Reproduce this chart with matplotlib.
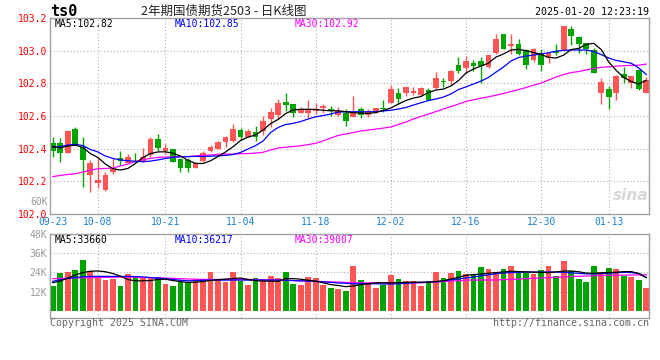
import numpy as np
import matplotlib
matplotlib.use("Agg")
import matplotlib.pyplot as plt

# daily bars 2024-09-23 .. 2025-01-20, 2-year treasury futures (T2503)
opens = [102.433, 102.433, 102.376, 102.520, 102.410, 102.240, 102.190, 102.150, 102.255, 102.345,
         102.315, 102.368, 102.327, 102.361, 102.459, 102.388, 102.398, 102.335, 102.330, 102.283,
         102.326, 102.388, 102.400, 102.439, 102.449, 102.514, 102.473, 102.502, 102.510, 102.580,
         102.606, 102.688, 102.673, 102.620, 102.616, 102.630, 102.649, 102.643, 102.606, 102.620,
         102.596, 102.642, 102.606, 102.623, 102.647, 102.681, 102.743, 102.743, 102.743, 102.729,
         102.759, 102.770, 102.816, 102.816, 102.912, 102.896, 102.926, 102.939, 102.900, 102.984,
         103.102, 103.031, 103.040, 103.004, 102.943, 102.988, 102.953, 103.000, 103.000, 103.133,
         103.082, 103.045, 103.004, 102.743, 102.765, 102.739, 102.860, 102.804, 102.882, 102.743]
highs = [102.473, 102.465, 102.513, 102.534, 102.470, 102.330, 102.345, 102.260, 102.340, 102.385,
         102.367, 102.372, 102.402, 102.470, 102.490, 102.428, 102.400, 102.335, 102.340, 102.313,
         102.386, 102.422, 102.447, 102.478, 102.551, 102.528, 102.520, 102.540, 102.600, 102.650,
         102.704, 102.743, 102.673, 102.657, 102.698, 102.680, 102.673, 102.660, 102.653, 102.640,
         102.722, 102.653, 102.640, 102.649, 102.698, 102.790, 102.770, 102.780, 102.776, 102.780,
         102.770, 102.871, 102.831, 102.882, 102.963, 102.967, 102.943, 102.963, 102.973, 103.102,
         103.102, 103.102, 103.070, 103.010, 103.014, 103.008, 102.994, 103.040, 103.151, 103.151,
         103.090, 103.049, 103.018, 102.831, 102.784, 102.851, 102.898, 102.845, 102.886, 102.841]
lows = [102.351, 102.320, 102.376, 102.425, 102.167, 102.135, 102.160, 102.140, 102.245, 102.300,
        102.310, 102.320, 102.320, 102.350, 102.388, 102.367, 102.317, 102.260, 102.260, 102.280,
        102.320, 102.381, 102.395, 102.412, 102.443, 102.453, 102.470, 102.447, 102.484, 102.534,
        102.580, 102.632, 102.592, 102.616, 102.586, 102.612, 102.620, 102.600, 102.600, 102.540,
        102.592, 102.586, 102.596, 102.616, 102.626, 102.678, 102.673, 102.722, 102.729, 102.720,
        102.694, 102.763, 102.780, 102.790, 102.865, 102.861, 102.875, 102.804, 102.892, 102.980,
        103.008, 102.980, 102.973, 102.886, 102.932, 102.877, 102.922, 102.973, 103.000, 103.035,
        102.984, 102.980, 102.861, 102.673, 102.643, 102.698, 102.800, 102.770, 102.759, 102.739]
closes = [102.388, 102.376, 102.510, 102.429, 102.330, 102.315, 102.210, 102.240, 102.280, 102.325,
          102.350, 102.365, 102.351, 102.459, 102.402, 102.406, 102.317, 102.280, 102.283, 102.310,
          102.372, 102.412, 102.440, 102.470, 102.520, 102.470, 102.510, 102.473, 102.571, 102.626,
          102.681, 102.667, 102.616, 102.643, 102.645, 102.635, 102.661, 102.630, 102.630, 102.571,
          102.626, 102.606, 102.630, 102.649, 102.643, 102.763, 102.704, 102.780, 102.753, 102.771,
          102.698, 102.831, 102.808, 102.878, 102.875, 102.937, 102.906, 102.908, 102.973, 103.071,
          103.010, 103.040, 102.980, 102.912, 103.008, 102.912, 102.988, 102.984, 103.151, 103.090,
          103.041, 103.008, 102.861, 102.810, 102.714, 102.845, 102.833, 102.845, 102.765, 102.820]

# moving averages as drawn on the chart
ma5 = [102.413, 102.405, 102.416, 102.422, 102.407, 102.370, 102.346, 102.306, 102.277, 102.269,
       102.279, 102.309, 102.346, 102.370, 102.380, 102.381, 102.372, 102.355, 102.328, 102.310,
       102.309, 102.326, 102.352, 102.380, 102.412, 102.450, 102.471, 102.484, 102.514, 102.554,
       102.579, 102.615, 102.637, 102.641, 102.641, 102.640, 102.635, 102.632, 102.632, 102.626,
       102.620, 102.618, 102.616, 102.621, 102.634, 102.649, 102.673, 102.695, 102.710, 102.719,
       102.744, 102.759, 102.765, 102.784, 102.817, 102.863, 102.888, 102.906, 102.924, 102.961,
       102.980, 103.004, 103.008, 103.000, 102.989, 102.976, 102.959, 102.955, 102.973, 103.007,
       103.014, 103.038, 103.045, 103.007, 102.931, 102.879, 102.836, 102.811, 102.796, 102.818]
ma10 = [102.408, 102.413, 102.422, 102.427, 102.419, 102.395, 102.380, 102.355, 102.340, 102.331,
        102.326, 102.323, 102.320, 102.324, 102.331, 102.340, 102.347, 102.351, 102.351, 102.353,
        102.352, 102.354, 102.356, 102.359, 102.364, 102.377, 102.398, 102.419, 102.447, 102.499,
        102.530, 102.548, 102.555, 102.566, 102.582, 102.595, 102.603, 102.612, 102.624, 102.626,
        102.626, 102.626, 102.626, 102.626, 102.631, 102.635, 102.643, 102.652, 102.667, 102.681,
        102.695, 102.704, 102.716, 102.735, 102.762, 102.778, 102.796, 102.814, 102.836, 102.869,
        102.900, 102.937, 102.958, 102.967, 102.973, 102.980, 102.987, 102.997, 103.002, 103.004,
        103.004, 103.004, 102.995, 102.976, 102.955, 102.940, 102.932, 102.923, 102.894, 102.854]
ma30 = [102.229, 102.236, 102.242, 102.247, 102.257, 102.269, 102.277, 102.279, 102.282, 102.294,
        102.306, 102.321, 102.331, 102.341, 102.346, 102.349, 102.350, 102.351, 102.352, 102.355,
        102.359, 102.361, 102.366, 102.367, 102.367, 102.369, 102.370, 102.373, 102.378, 102.392,
        102.404, 102.409, 102.413, 102.418, 102.425, 102.433, 102.448, 102.465, 102.481, 102.490,
        102.499, 102.508, 102.514, 102.520, 102.526, 102.533, 102.548, 102.563, 102.582, 102.597,
        102.612, 102.627, 102.643, 102.658, 102.673, 102.689, 102.699, 102.709, 102.718, 102.727,
        102.738, 102.750, 102.762, 102.774, 102.789, 102.802, 102.820, 102.839, 102.854, 102.866,
        102.872, 102.882, 102.891, 102.898, 102.901, 102.905, 102.908, 102.910, 102.911, 102.918]

# volume (lots) and its moving averages
volume = [15400, 23600, 24250, 25500, 31900, 24700, 21750, 19250, 19900, 15400,
          23000, 21500, 20900, 20900, 21100, 16900, 15400, 18000, 17500, 19900,
          19900, 24250, 19900, 18000, 24250, 18750, 16000, 20500, 18750, 21750,
          20500, 24250, 16600, 16000, 21100, 20500, 16000, 14100, 13500, 12200,
          28100, 19250, 17400, 14300, 16100, 22400, 19900, 18400, 18400, 15400,
          18600, 24250, 20500, 23600, 24900, 23000, 22400, 27400, 26400, 23600,
          26200, 28100, 24250, 23600, 23000, 25500, 28100, 21750, 31250, 24900,
          19900, 18000, 28100, 24100, 26750, 26100, 21750, 21100, 19250, 14100]
vol_ma5 = [17600, 18600, 20500, 22300, 23900, 24750, 24900, 24400, 23300, 21600,
           19500, 18750, 18750, 18900, 19600, 19750, 18900, 18250, 17750, 17900,
           18300, 19000, 19400, 19800, 20200, 20500, 19600, 18800, 18600, 18500,
           18400, 20200, 20100, 19750, 19100, 18500, 17500, 16400, 15800, 15100,
           15500, 16400, 16900, 17500, 17500, 17500, 17600, 17750, 17900, 17900,
           17900, 18250, 18800, 19900, 20900, 22250, 22600, 23000, 23500, 23900,
           24300, 24700, 24500, 24300, 24100, 24000, 23900, 24300, 24800, 24900,
           24400, 23600, 23400, 23700, 23900, 24100, 24500, 24500, 23300, 20800]
vol_ma10 = [18400, 19400, 20200, 20800, 21300, 21500, 21500, 21500, 21500, 21500,
            21500, 21400, 21200, 20800, 20400, 20100, 19600, 19100, 18750, 18900,
            19100, 19200, 19200, 19200, 19200, 19200, 19200, 19200, 19200, 19200,
            19200, 19100, 18900, 18700, 18600, 18400, 18100, 17800, 17400, 17200,
            16900, 16900, 16900, 16900, 16750, 16700, 16900, 17200, 17500, 17700,
            17900, 18200, 18750, 19300, 19900, 20600, 21100, 21900, 22500, 23100,
            23600, 23900, 24000, 24250, 24250, 24250, 24250, 24250, 24000, 23750,
            23400, 23100, 23100, 23300, 23500, 23800, 24100, 23900, 23300, 20800]
vol_ma30 = [20100, 20250, 20400, 20500, 20600, 20750, 20800, 20900, 21000, 21100,
            21100, 20900, 20800, 20700, 20600, 20400, 20250, 20100, 19900, 19750,
            19600, 19600, 19600, 19600, 19600, 19600, 19600, 19500, 19400, 19300,
            19250, 19100, 18900, 18750, 18600, 18400, 18250, 18100, 17900, 17700,
            17600, 17500, 17500, 17500, 17500, 17500, 17500, 17500, 17500, 17500,
            17750, 18000, 18250, 18600, 18800, 19100, 19250, 19250, 19250, 19250,
            19500, 19600, 19800, 20100, 20300, 20500, 20750, 20900, 21200, 21400,
            21600, 21750, 21900, 22100, 22200, 22250, 22300, 22400, 22400, 22500]

tick_pos = [0, 6, 15, 25, 35, 45, 55, 65, 74]
tick_labels = ['09-23', '10-08', '10-21', '11-04', '11-18', '12-02', '12-16', '12-30', '01-13']
price_ticks = [102.0, 102.2, 102.4, 102.6, 102.8, 103.0, 103.2]
vol_ticks = [12000, 24000, 36000, 48000]

RED = '#ff5555'
GREEN = '#00a400'
GRID = '#b0b0b0'
FRAME = '#a0a0a0'
plt.rcParams['font.family'] = ['DejaVu Sans Mono']

o = np.array(opens)
h = np.array(highs)
l = np.array(lows)
c = np.array(closes)
x = np.arange(len(c))
cols = np.where(c >= o, RED, GREEN)

W, H = 660, 360
fig = plt.figure(figsize=(W / 100, H / 100), dpi=100)


def box(left, top, right, bottom):
    return [left / W, 1 - bottom / H, (right - left) / W, (bottom - top) / H]


ax = fig.add_axes(box(50, 18, 649, 214))
axv = fig.add_axes(box(50, 234, 649, 318))

# price panel
for yv in price_ticks[1:-1]:
    ax.axhline(yv, color=GRID, lw=0.8, ls=(0, (1, 2)), zorder=0)
for xv in tick_pos[1:]:
    ax.axvline(xv, color=GRID, lw=0.8, ls=(0, (1, 2)), zorder=0)
ax.vlines(x, l, h, colors=cols, lw=1, zorder=2)
ax.bar(x, np.maximum(np.abs(c - o), 0.004), bottom=np.minimum(o, c), width=0.76,
       color=cols, lw=0, zorder=2)
ax.plot(x, ma30, color='#ff00ff', lw=0.9, zorder=3)
ax.plot(x, ma10, color='#0000ff', lw=0.9, zorder=3)
ax.plot(x, ma5, color='black', lw=0.9, zorder=3)
ax.set_xlim(-0.37, 79.36)
ax.set_ylim(102.0, 103.2)
ax.set_yticks(price_ticks, [f'{v:.1f}' for v in price_ticks])
ax.set_xticks(tick_pos, tick_labels)
ax.tick_params(axis='y', length=0, pad=2, labelsize=7, labelcolor='red')
ax.tick_params(axis='x', length=0, pad=2, labelsize=7, labelcolor='#1a80d0')

# volume panel
for yv in vol_ticks[:-1]:
    axv.axhline(yv, color=GRID, lw=0.8, ls=(0, (1, 2)), zorder=0)
for xv in tick_pos[1:]:
    axv.axvline(xv, color=GRID, lw=0.8, ls=(0, (1, 2)), zorder=0)
axv.bar(x, volume, width=0.76, color=cols, lw=0, zorder=2)
axv.plot(x, vol_ma30, color='#ff00ff', lw=0.9, zorder=3)
axv.plot(x, vol_ma10, color='#0000ff', lw=0.9, zorder=3)
axv.plot(x, vol_ma5, color='black', lw=0.9, zorder=3)
axv.set_xlim(-0.37, 79.36)
axv.set_ylim(-4500, 48000)
axv.set_yticks(vol_ticks, [f'{v // 1000}K' for v in vol_ticks])
axv.set_xticks([])
axv.tick_params(axis='y', length=0, pad=2, labelsize=7, labelcolor='#999999')

for a in (ax, axv):
    for s in a.spines.values():
        s.set_color(FRAME)
        s.set_linewidth(1)

# header and legends
def put(px, py, s, **kw):
    fig.text(px / W, 1 - py / H, s, va='center', **kw)


put(50, 11.5, 'ts0', fontsize=11, fontweight='bold')
put(141, 11, '2年期国债期货2503 - 日K线图', fontsize=9, color='#222222',
    family=['Noto Sans CJK SC', 'DejaVu Sans'])
put(649, 12, '2025-01-20 12:23:19', fontsize=7.2, ha='right')

put(55, 24, 'MA5:102.82', fontsize=7, color='black')
put(175, 24, 'MA10:102.85', fontsize=7, color='#0000ff')
put(295, 24, 'MA30:102.92', fontsize=7, color='#ff00ff')
put(55, 240, 'MA5:33660', fontsize=7, color='black')
put(175, 240, 'MA10:36217', fontsize=7, color='#0000ff')
put(295, 240, 'MA30:39007', fontsize=7, color='#ff00ff')

put(48, 202, '60K', fontsize=7, color='#999999', ha='right')
put(648, 196, 'sina', fontsize=11, color='#d8d8d8', ha='right',
    fontstyle='italic', fontweight='bold', family=['DejaVu Sans'])

put(50, 323, 'Copyright 2025 SINA.COM', fontsize=7.1, color='#666666')
put(649, 323, 'http://finance.sina.com.cn', fontsize=7.2, color='#666666', ha='right')

fig.savefig('out.png', dpi=100)
